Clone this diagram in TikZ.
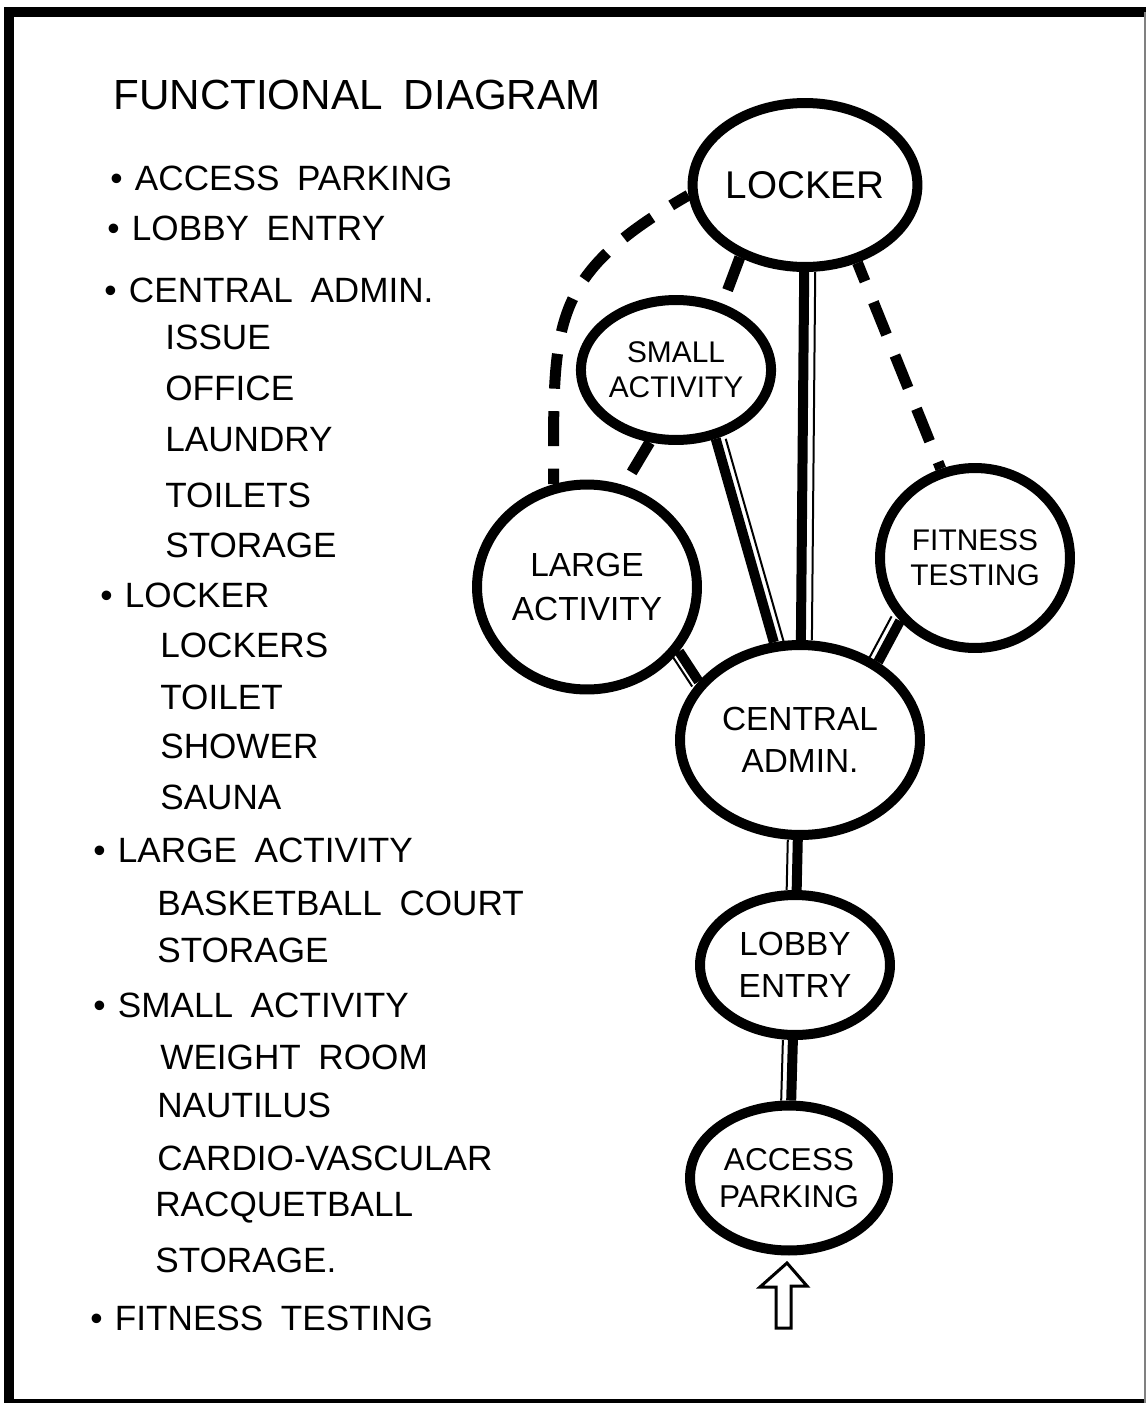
\documentclass[tikz,border=0pt]{standalone}
\usepackage{fontspec}
\setmainfont{Liberation Sans}[WordSpace=1.8]
\usetikzlibrary{shapes.geometric}

\begin{document}
\begin{tikzpicture}[x=0.02cm, y=-0.02cm]
    % Define styles
    \tikzset{
        room/.style={ellipse, draw, line width=0.2cm, inner sep=0pt, align=center, font=\fontsize{19}{24}\selectfont},
        listtext/.style={anchor=west, inner sep=0pt, font=\fontsize{20}{24}\selectfont},
        weak/.style={line width=0.22cm, dash pattern=on 0.7cm off 0.45cm},
        strong/.style={line width=0.2cm, postaction={draw, line width=0.04cm, transform canvas={shift={#1}}}}
    }

    \useasboundingbox (0,0) rectangle (1146,1403);

    % Draw frame
    \draw[line width=0.2cm] (1146,12) -- (9,12) -- (9,1404) -- (1146,1404);
    \draw[gray, line width=0.04cm] (1145,12) -- (1145,1403);

    % Title and list of spaces
    \node[listtext, font=\fontsize{24}{28}\selectfont] (title) at (113,95) {FUNCTIONAL DIAGRAM};
    \foreach \x/\y/\txt [count=\i] in {
        110/178/{\textbullet\hspace{7pt}ACCESS PARKING},
        107/228/{\textbullet\hspace{7pt}LOBBY ENTRY},
        104/290/{\textbullet\hspace{7pt}CENTRAL ADMIN.},
        165/337/ISSUE, 165/388/OFFICE, 165/440/LAUNDRY, 165/495/TOILETS, 165/545/STORAGE,
        100/595/{\textbullet\hspace{7pt}LOCKER},
        160/645/LOCKERS, 160/697/TOILET, 160/746/SHOWER, 160/797/SAUNA,
        93/850/{\textbullet\hspace{7pt}LARGE ACTIVITY},
        157/903/BASKETBALL COURT, 157/950/STORAGE,
        93/1005/{\textbullet\hspace{7pt}SMALL ACTIVITY},
        160/1057/WEIGHT ROOM, 157/1105/NAUTILUS, 157/1158/CARDIO-VASCULAR,
        155/1208/RACQUETBALL, 155/1260/STORAGE.,
        90/1318/{\textbullet\hspace{7pt}FITNESS TESTING}}
        \node[listtext] (item\i) at (\x,\y) {\txt};

    % Draw the rooms
    \node[room, minimum width=4.48cm, minimum height=3.28cm, font=\fontsize{22}{26}\selectfont] (locker) at (805,185) {LOCKER};
    \node[room, minimum width=3.52cm, minimum height=2.8cm, font=\fontsize{17}{20}\selectfont] (small) at (676,370) {SMALL\\ACTIVITY};
    \node[room, minimum width=4.4cm, minimum height=4.1cm, font=\fontsize{19}{25}\selectfont] (large) at (587,587) {LARGE\\ACTIVITY};
    \node[room, minimum width=3.8cm, minimum height=3.6cm, font=\fontsize{17}{20}\selectfont] (fitness) at (975,558) {FITNESS\\TESTING};
    \node[room, minimum width=4.8cm, minimum height=3.8cm] (central) at (800,740) {CENTRAL\\ADMIN.};
    \node[room, minimum width=3.8cm, minimum height=2.8cm] (lobby) at (795,965) {LOBBY\\ENTRY};
    \node[room, minimum width=3.84cm, minimum height=2.9cm, font=\fontsize{18}{21}\selectfont] (parking) at (789,1178) {ACCESS\\PARKING};

    % Strong links
    \draw[strong={(0.22cm,0)}] (locker) -- (central);
    \draw[strong={(0.2cm,0)}] (small.-60) -- (central.105);
    \draw[strong={(-0.13cm,-0.1cm)}] (large.-35) -- (central.150);
    \draw[strong={(-0.17cm,0.09cm)}] (fitness.220) -- (central.45);
    \draw[strong={(-0.2cm,0)}] (central) -- (lobby);
    \draw[strong={(-0.2cm,0)}] (lobby) -- (parking);

    % Weak links
    \draw[weak, dash phase=0.3cm] (locker.185) to[out=210, in=90, looseness=1.3] (large.108);
    \draw[weak] (locker.228) -- (small.55);
    \draw[weak] (small.250) -- (large.70);
    \draw[weak, dash phase=0.3cm] (locker.-56) -- (fitness.111);

    % Entry arrow
    \draw[line width=0.06cm, line join=miter] (787,1263) -- (807,1286) -- (791,1286) -- (791,1328)
        -- (776,1328) -- (776,1287) -- (760,1287) -- cycle;
\end{tikzpicture}
\end{document}
